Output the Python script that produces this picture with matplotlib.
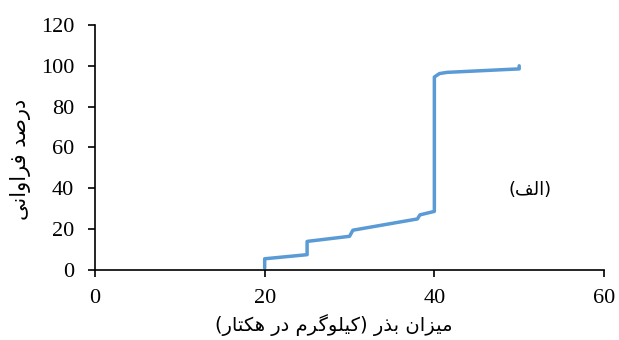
import matplotlib
matplotlib.use("Agg")
import matplotlib.pyplot as plt

# cumulative frequency (%) against seed rate (kg/ha)
seed_rate = [20, 20, 25, 25, 30, 30.4, 38, 38.3, 40, 40, 40.6, 41.5, 50, 50]
freq_pct = [1, 5.5, 7.5, 14, 16.5, 19.5, 25, 27, 28.7, 94.5, 96.2, 96.8, 98.5, 100]

x_ticks = [0, 20, 40, 60]
y_ticks = [0, 20, 40, 60, 80, 100, 120]

# presentation forms: (isolated, final, initial, medial)
FORMS = {
    'ا': ('\uFE8D', '\uFE8E'), 'د': ('\uFEA9', '\uFEAA'), 'ذ': ('\uFEAB', '\uFEAC'),
    'ر': ('\uFEAD', '\uFEAE'), 'ز': ('\uFEAF', '\uFEB0'), 'و': ('\uFEED', '\uFEEE'),
    'ب': ('\uFE8F', '\uFE90', '\uFE91', '\uFE92'), 'ت': ('\uFE95', '\uFE96', '\uFE97', '\uFE98'),
    'ص': ('\uFEB9', '\uFEBA', '\uFEBB', '\uFEBC'), 'ف': ('\uFED1', '\uFED2', '\uFED3', '\uFED4'),
    'ل': ('\uFEDD', '\uFEDE', '\uFEDF', '\uFEE0'), 'م': ('\uFEE1', '\uFEE2', '\uFEE3', '\uFEE4'),
    'ن': ('\uFEE5', '\uFEE6', '\uFEE7', '\uFEE8'), 'ه': ('\uFEE9', '\uFEEA', '\uFEEB', '\uFEEC'),
    'ی': ('\uFBFC', '\uFBFD', '\uFBFE', '\uFBFF'), 'ک': ('\uFB8E', '\uFB8F', '\uFB90', '\uFB91'),
    'گ': ('\uFB92', '\uFB93', '\uFB94', '\uFB95'),
}
MIRROR = {'(': ')', ')': '('}


def shape(text):
    # join letters and lay the line out right to left
    out = []
    for i, ch in enumerate(text):
        if ch not in FORMS:
            out.append(MIRROR.get(ch, ch))
            continue
        prev = text[i - 1] if i > 0 else ''
        nxt = text[i + 1] if i + 1 < len(text) else ''
        joins_prev = prev in FORMS and len(FORMS[prev]) == 4
        joins_next = nxt in FORMS and len(FORMS[ch]) == 4
        f = FORMS[ch]
        if joins_prev and joins_next:
            out.append(f[3])
        elif joins_next:
            out.append(f[2])
        elif joins_prev:
            out.append(f[1])
        else:
            out.append(f[0])
    return ''.join(reversed(out))


ylabel = shape('درصد فراوانی')
xlabel = shape('میزان بذر (کیلوگرم در هکتار)')
panel = shape('(الف)')

plt.rcParams['font.family'] = ['Liberation Serif', 'DejaVu Sans']

fig = plt.figure(figsize=(6.19, 3.40), dpi=100)
ax = fig.add_axes([0.1535, 0.2059, 0.8223, 0.7206])

ax.plot(seed_rate, freq_pct, color='#5B9BD5', linewidth=2.5,
        solid_capstyle='round', solid_joinstyle='round')

ax.set_xlim(0, 60)
ax.set_ylim(0, 120)
ax.set_xticks(x_ticks)
ax.set_yticks(y_ticks)
ax.tick_params(direction='out', length=5, width=1.2, labelsize=16)
ax.tick_params(axis='y', pad=10)
ax.tick_params(axis='x', pad=9)

for side in ('top', 'right'):
    ax.spines[side].set_visible(False)
for side in ('left', 'bottom'):
    ax.spines[side].set_linewidth(1.2)

ax.set_xlabel(xlabel, fontsize=14, family=['DejaVu Sans'])
ax.xaxis.set_label_coords(0.47, -0.18)
ax.set_ylabel(ylabel, fontsize=15, family=['DejaVu Sans'], va='center')
ax.yaxis.set_label_coords(-0.147, 0.45)
ax.text(51.3, 39, panel, fontsize=13, family=['DejaVu Sans'], ha='center', va='center')

fig.savefig('out.png', dpi=100)
